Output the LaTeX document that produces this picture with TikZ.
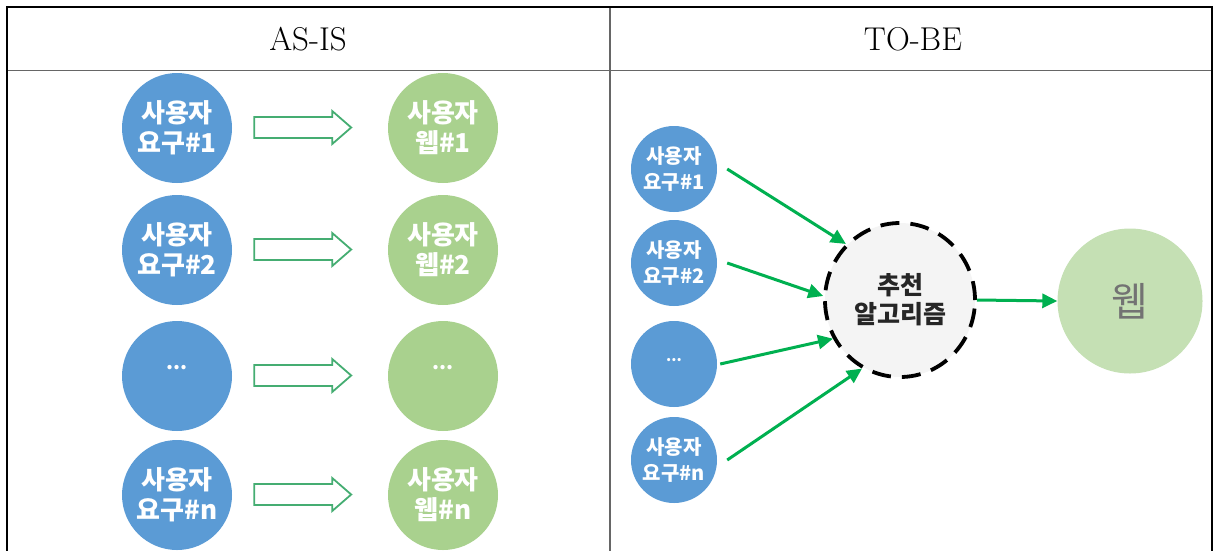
\documentclass[tikz,border=0pt]{standalone}
\usepackage{fontspec}
\newfontfamily\kr{Noto Sans CJK KR}
\usetikzlibrary{shapes.geometric,arrows.meta}
\definecolor{cblue}{HTML}{5B9BD5}
\definecolor{cgreen}{HTML}{A9D18E}
\definecolor{cweb}{HTML}{C5E0B4}
\definecolor{calg}{HTML}{F4F4F4}
\definecolor{cconn}{HTML}{00B050}
\definecolor{cblock}{HTML}{45AD72}
\definecolor{cgrid}{HTML}{666666}
\begin{document}
\begin{tikzpicture}[x=1pt,y=-1pt,
  bigblue/.style={circle,fill=cblue,minimum size=110pt,inner sep=0pt,text=white,
    font=\kr\bfseries\fontsize{26}{30}\selectfont,align=center},
  biggreen/.style={bigblue,fill=cgreen},
  smallblue/.style={circle,fill=cblue,minimum size=86pt,inner sep=0pt,text=white,
    font=\kr\bfseries\fontsize{20}{26}\selectfont,align=center},
  algnode/.style={ellipse,fill=calg,draw=black,line width=3.8pt,dash pattern=on 19pt off 11pt,
    minimum width=150pt,minimum height=154pt,inner sep=0pt,text=black!85,
    font=\kr\bfseries\fontsize{25}{29}\selectfont,align=center},
  webnode/.style={circle,fill=cweb,minimum size=145pt,inner sep=0pt,text=black!55,
    font=\kr\fontsize{40}{44}\selectfont},
  blockarr/.style={draw=cblock,line width=1.8pt,fill=white},
  conn/.style={draw=cconn,line width=3pt,-{Triangle[length=15pt,width=14pt]}},
  hdr/.style={font=\fontsize{33}{38}\selectfont}
]
\useasboundingbox (0,0) rectangle (1217,550);
% table
\draw[cgrid,line width=1.5pt] (7,70.5) -- (1212,70.5);
\draw[cgrid,line width=1.2pt] (610,7) -- (610,560);
\draw[black,line width=1.3pt] (7,560) -- (7,7) -- (1212,7) -- (1212,560);
\node[hdr] (h1) at (308,39) {AS-IS};
\node[hdr] (h2) at (913,39) {TO-BE};
% AS-IS
\node[bigblue] (a1) at (177,128) {사용자\\요구\#1};
\node[biggreen] (b1) at (443,128) {사용자\\웹\#1};
\node[bigblue] (a2) at (177,250) {사용자\\요구\#2};
\node[biggreen] (b2) at (443,250) {사용자\\웹\#2};
\node[bigblue,text depth=18pt,font=\kr\bfseries\fontsize{20}{24}\selectfont] (a3) at (177,376) {...};
\node[biggreen,text depth=18pt,font=\kr\bfseries\fontsize{20}{24}\selectfont] (b3) at (443,376) {...};
\node[bigblue] (a4) at (177,495) {사용자\\요구\#n};
\node[biggreen] (b4) at (443,495) {사용자\\웹\#n};
\foreach \i in {1,...,4}
  \draw[blockarr] ([xshift=22pt,yshift=0.5pt]a\i.east) ++(0,-10.5) -- ++(78,0) -- ++(0,-6)
    -- ++(19,16.5) -- ++(-19,16.5) -- ++(0,-6) -- ++(-78,0) -- cycle;
% TO-BE
\node[smallblue] (u1) at (674,169) {사용자\\요구\#1};
\node[smallblue] (u2) at (674,263) {사용자\\요구\#2};
\node[smallblue,text depth=8pt,font=\kr\bfseries\fontsize{15}{18}\selectfont] (u3) at (674,364) {...};
\node[smallblue] (u4) at (674,460) {사용자\\요구\#n};
\node[algnode] (alg) at (900,300) {추천\\알고리즘};
\node[webnode] (web) at (1130,301) {웹};
\draw[conn] ([xshift=10pt]u1.east) -- (alg.134);
\draw[conn] ([xshift=10pt]u2.east) -- (alg.177);
\draw[conn] ([xshift=3pt]u3.east) -- (alg.210);
\draw[conn] ([xshift=10pt]u4.east) -- (alg.241);
\draw[conn] (alg.east) -- (web.west);
\end{tikzpicture}
\end{document}
